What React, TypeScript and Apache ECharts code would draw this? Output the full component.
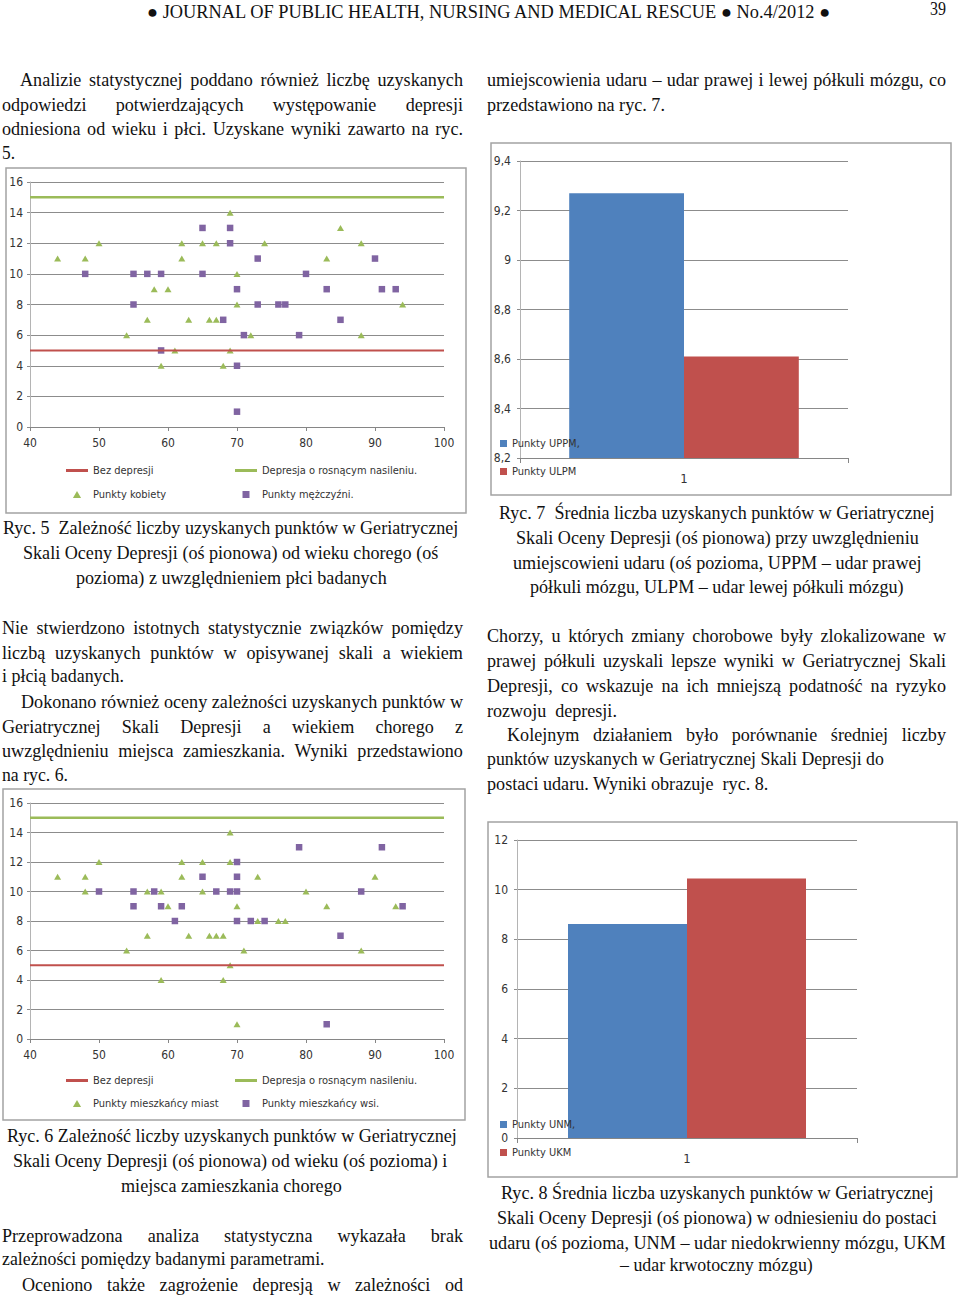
import React, { useEffect, useRef } from "react";
import * as echarts from "echarts";

// ---------------- data ----------------
const ageAxisRange = [40, 100];
const ageTickStep = 10;
const scoreAxisRange = [0, 16];
const scoreTickStep = 2;
const thresholdNoDepression = 5;
const thresholdDepression = 15;

const lineNames = ["Bez depresji", "Depresja o rosnącym nasileniu."];
const fig5SeriesNames = ["Punkty kobiety", "Punkty mężczyźni."];
const fig6SeriesNames = ["Punkty mieszkańcy miast", "Punkty mieszkańcy wsi."];

// Ryc. 5 – [wiek, punkty]
const womenPoints: [number, number][] = [
  [44, 11], [48, 11], [50, 12], [54, 6], [57, 7], [58, 9], [59, 4], [60, 9], [61, 5],
  [62, 12], [62, 11], [63, 7], [65, 12], [66, 7], [67, 12], [67, 7], [68, 4], [69, 14],
  [69, 5], [70, 10], [70, 8], [72, 6], [74, 12], [83, 11], [85, 13], [88, 12], [88, 6], [94, 8],
];
const menPoints: [number, number][] = [
  [48, 10], [55, 10], [55, 8], [57, 10], [59, 10], [59, 5], [65, 13], [65, 10], [68, 7],
  [69, 13], [69, 12], [70, 9], [70, 4], [70, 1], [71, 6], [73, 11], [73, 8], [76, 8],
  [77, 8], [79, 6], [80, 10], [83, 9], [85, 7], [90, 11], [91, 9], [93, 9],
];

// Ryc. 6 – [wiek, punkty]
const cityPoints: [number, number][] = [
  [44, 11], [48, 11], [48, 10], [50, 12], [54, 6], [57, 10], [57, 7], [59, 10], [59, 4],
  [60, 9], [62, 12], [62, 11], [63, 7], [65, 12], [65, 10], [66, 7], [67, 7], [68, 7],
  [68, 4], [69, 14], [69, 12], [69, 5], [70, 9], [70, 1], [71, 6], [73, 11], [73, 8],
  [76, 8], [77, 8], [80, 10], [83, 9], [88, 6], [90, 11], [93, 9],
];
const villagePoints: [number, number][] = [
  [50, 10], [55, 10], [55, 9], [58, 10], [59, 9], [61, 8], [62, 9], [65, 11], [67, 10],
  [69, 10], [70, 12], [70, 11], [70, 10], [70, 8], [72, 8], [74, 8], [79, 13], [83, 1],
  [85, 7], [88, 10], [91, 13], [94, 9],
];

// Ryc. 7
const fig7Categories = ["1"];
const fig7Names = ["Punkty UPPM,", "Punkty ULPM"];
const fig7UPPM = [9.27];
const fig7ULPM = [8.61];
const fig7AxisRange = [8.2, 9.4];
const fig7TickStep = 0.2;

// Ryc. 8
const fig8Categories = ["1"];
const fig8Names = ["Punkty UNM,", "Punkty UKM"];
const fig8UNM = [8.62];
const fig8UKM = [10.45];
const fig8AxisRange = [0, 12];
const fig8TickStep = 2;

// ---------------- page text (layout) ----------------
type Line = { t: string; x0: number; x1: number; y: number; m: "j" | "f"; fs?: number };

const pageLines: Line[] = [
  { t: "● JOURNAL OF PUBLIC HEALTH, NURSING AND MEDICAL RESCUE ● No.4/2012 ●", x0: 147, x1: 833, y: 12, m: "f", fs: 18 },
  { t: "39", x0: 930, x1: 946, y: 9, m: "f", fs: 18 },

  { t: "Analizie statystycznej poddano również liczbę uzyskanych", x0: 20, x1: 463, y: 79, m: "j" },
  { t: "odpowiedzi potwierdzających występowanie depresji", x0: 2, x1: 463, y: 104, m: "j" },
  { t: "odniesiona od wieku i płci. Uzyskane wyniki zawarto na ryc.", x0: 2, x1: 463, y: 128, m: "j" },
  { t: "5.", x0: 2, x1: 15, y: 153, m: "f" },

  { t: "umiejscowienia udaru – udar prawej i lewej półkuli mózgu, co", x0: 487, x1: 946, y: 79, m: "j" },
  { t: "przedstawiono na ryc. 7.", x0: 487, x1: 665, y: 104, m: "f" },

  { t: "Ryc. 5  Zależność liczby uzyskanych punktów w Geriatrycznej", x0: 3, x1: 459, y: 527, m: "f" },
  { t: "Skali Oceny Depresji (oś pionowa) od wieku chorego (oś", x0: 23, x1: 439, y: 552, m: "f" },
  { t: "pozioma) z uwzględnieniem płci badanych", x0: 76, x1: 387, y: 577, m: "f" },

  { t: "Nie stwierdzono istotnych statystycznie związków pomiędzy", x0: 2, x1: 463, y: 627, m: "j" },
  { t: "liczbą uzyskanych punktów w opisywanej skali a wiekiem", x0: 2, x1: 463, y: 652, m: "j" },
  { t: "i płcią badanych.", x0: 2, x1: 124, y: 676, m: "f" },
  { t: "Dokonano również oceny zależności uzyskanych punktów w", x0: 21, x1: 463, y: 701, m: "j" },
  { t: "Geriatrycznej Skali Depresji a wiekiem chorego z", x0: 2, x1: 463, y: 726, m: "j" },
  { t: "uwzględnieniu miejsca zamieszkania. Wyniki przedstawiono", x0: 2, x1: 463, y: 750, m: "j" },
  { t: "na ryc. 6.", x0: 2, x1: 68, y: 775, m: "f" },

  { t: "Ryc. 7  Średnia liczba uzyskanych punktów w Geriatrycznej", x0: 499, x1: 935, y: 512, m: "f" },
  { t: "Skali Oceny Depresji (oś pionowa) przy uwzględnieniu", x0: 516, x1: 919, y: 537, m: "f" },
  { t: "umiejscowieni udaru (oś pozioma, UPPM – udar prawej", x0: 513, x1: 922, y: 562, m: "f" },
  { t: "półkuli mózgu, ULPM – udar lewej półkuli mózgu)", x0: 530, x1: 904, y: 586, m: "f" },

  { t: "Chorzy, u  których zmiany chorobowe były zlokalizowane w", x0: 487, x1: 946, y: 635, m: "j" },
  { t: "prawej półkuli uzyskali lepsze wyniki w Geriatrycznej Skali", x0: 487, x1: 946, y: 660, m: "j" },
  { t: "Depresji, co wskazuje na ich mniejszą podatność na ryzyko", x0: 487, x1: 946, y: 685, m: "j" },
  { t: "rozwoju  depresji.", x0: 487, x1: 617, y: 710, m: "f" },
  { t: "Kolejnym działaniem było porównanie średniej liczby", x0: 507, x1: 946, y: 734, m: "j" },
  { t: "punktów uzyskanych w Geriatrycznej Skali Depresji do", x0: 487, x1: 884, y: 759, m: "f" },
  { t: "postaci udaru. Wyniki obrazuje  ryc. 8.", x0: 487, x1: 769, y: 783, m: "f" },

  { t: "Ryc. 6 Zależność liczby uzyskanych punktów w Geriatrycznej", x0: 7, x1: 457, y: 1135, m: "f" },
  { t: "Skali Oceny Depresji (oś pionowa) od wieku (oś pozioma) i", x0: 13, x1: 448, y: 1160, m: "f" },
  { t: "miejsca zamieszkania chorego", x0: 121, x1: 342, y: 1185, m: "f" },

  { t: "Przeprowadzona analiza statystyczna wykazała brak", x0: 2, x1: 463, y: 1235, m: "j" },
  { t: "zależności pomiędzy badanymi parametrami.", x0: 2, x1: 325, y: 1259, m: "f" },
  { t: "Oceniono także zagrożenie depresją w zależności od", x0: 22, x1: 463, y: 1284, m: "j" },

  { t: "Ryc. 8 Średnia liczba uzyskanych punktów w Geriatrycznej", x0: 501, x1: 934, y: 1192, m: "f" },
  { t: "Skali Oceny Depresji (oś pionowa) w odniesieniu do postaci", x0: 497, x1: 937, y: 1217, m: "f" },
  { t: "udaru (oś pozioma, UNM – udar niedokrwienny mózgu, UKM", x0: 489, x1: 946, y: 1242, m: "f" },
  { t: "– udar krwotoczny mózgu)", x0: 620, x1: 813, y: 1265, m: "f" },
];

const SERIF = "'Liberation Serif', 'Times New Roman', serif";
const SANS = "'Liberation Sans Narrow', 'Arial Narrow', 'DejaVu Sans Condensed', Roboto, sans-serif";
const BODY_FS = 19;
const LEGEND_FS = 11;

function textEl(text: string, x: number, y: number, scaleX: number, fs: number) {
  return {
    type: "text",
    x,
    y,
    scaleX,
    silent: true,
    style: {
      text,
      fontSize: fs,
      fontFamily: SERIF,
      fill: "#111",
      textAlign: "left",
      textVerticalAlign: "middle",
      align: "left",
      verticalAlign: "middle",
    },
  };
}

function layoutLines(lines: Line[]) {
  const ctx = document.createElement("canvas").getContext("2d")!;
  const w = (s: string, fs: number) => {
    ctx.font = `${fs}px ${SERIF}`;
    return ctx.measureText(s).width;
  };
  const ratios = lines
    .filter((l) => l.m === "f" && l.t.length > 10 && !l.fs)
    .map((l) => (l.x1 - l.x0) / w(l.t, BODY_FS))
    .sort((a, b) => a - b);
  const sx = ratios.length ? ratios[Math.floor(ratios.length / 2)] : 1;
  const els: any[] = [];
  lines.forEach((l) => {
    const fs = l.fs || BODY_FS;
    if (l.m === "f") {
      els.push(textEl(l.t, l.x0, l.y, (l.x1 - l.x0) / w(l.t, fs), fs));
    } else {
      const words = l.t.split(/\s+/);
      const ws = words.map((wd) => w(wd, fs) * sx);
      const total = ws.reduce((a, b) => a + b, 0);
      const gap = words.length > 1 ? (l.x1 - l.x0 - total) / (words.length - 1) : 0;
      let x = l.x0;
      words.forEach((wd, i) => {
        els.push(textEl(wd, x, l.y, sx, fs));
        x += ws[i] + gap;
      });
    }
  });
  return els;
}

const GRID_COLOR = "#8c8c8c";
const AXIS_COLOR = "#868686";
const YAXIS_COLOR = "#b4b4b4";
const LABEL_COLOR = "#333";
const RED = "#C0504D";
const GREEN = "#9BBB59";
const PURPLE = "#8064A2";
const BLUE = "#4F81BD";

const ICON_LINE = "path://M0,0H22V3H0Z";
const ICON_TRI = "path://M3.5,0L7,6H0Z";
const ICON_SQ = "path://M0,0H6V6H0Z";

function scatterXAxis(gridIndex: number) {
  return {
    gridIndex,
    type: "value",
    min: ageAxisRange[0],
    max: ageAxisRange[1],
    interval: ageTickStep,
    axisLine: { show: true, lineStyle: { color: AXIS_COLOR, width: 1 } },
    axisTick: { show: true, length: 4, lineStyle: { color: AXIS_COLOR } },
    axisLabel: { margin: 10, fontSize: 12, color: LABEL_COLOR, fontFamily: SANS },
    splitLine: { show: false },
  };
}
function scatterYAxis(gridIndex: number) {
  return {
    gridIndex,
    type: "value",
    min: scoreAxisRange[0],
    max: scoreAxisRange[1],
    interval: scoreTickStep,
    axisLine: { show: true, lineStyle: { color: YAXIS_COLOR } },
    axisTick: { show: true, length: 3, lineStyle: { color: GRID_COLOR } },
    axisLabel: { margin: 7, fontSize: 12, color: LABEL_COLOR, fontFamily: SANS },
    splitLine: { show: true, lineStyle: { color: GRID_COLOR, width: 1 } },
  };
}
function barXAxis(gridIndex: number, data: string[]) {
  return {
    gridIndex,
    type: "category",
    data,
    axisLine: { show: true, lineStyle: { color: AXIS_COLOR } },
    axisTick: { show: true, length: 5, alignWithLabel: false, lineStyle: { color: AXIS_COLOR } },
    axisLabel: { margin: 14, fontSize: 13, color: LABEL_COLOR, fontFamily: SANS },
    splitLine: { show: false },
  };
}
function barYAxis(gridIndex: number, range: number[], step: number) {
  return {
    gridIndex,
    type: "value",
    min: range[0],
    max: range[1],
    interval: step,
    axisLine: { show: true, lineStyle: { color: YAXIS_COLOR } },
    axisTick: { show: true, length: 3, lineStyle: { color: GRID_COLOR } },
    axisLabel: {
      margin: 9,
      fontSize: 12,
      color: LABEL_COLOR,
      fontFamily: SANS,
      formatter: (v: number) => String(+v.toFixed(1)).replace(".", ","),
    },
    splitLine: { show: true, lineStyle: { color: GRID_COLOR } },
  };
}

function thresholdSeries(idx: number) {
  return [
    {
      type: "line",
      name: lineNames[0],
      xAxisIndex: idx,
      yAxisIndex: idx,
      data: [
        [ageAxisRange[0], thresholdNoDepression],
        [ageAxisRange[1], thresholdNoDepression],
      ],
      symbol: "none",
      silent: true,
      lineStyle: { color: RED, width: 2 },
      itemStyle: { color: RED },
    },
    {
      type: "line",
      name: lineNames[1],
      xAxisIndex: idx,
      yAxisIndex: idx,
      data: [
        [ageAxisRange[0], thresholdDepression],
        [ageAxisRange[1], thresholdDepression],
      ],
      symbol: "none",
      silent: true,
      lineStyle: { color: GREEN, width: 2.5 },
      itemStyle: { color: GREEN },
    },
  ];
}

function scatterSeries(idx: number, names: string[], tri: [number, number][], sq: [number, number][]) {
  return [
    {
      type: "scatter",
      name: names[0],
      xAxisIndex: idx,
      yAxisIndex: idx,
      data: tri,
      symbol: "triangle",
      symbolSize: [7, 6],
      itemStyle: { color: GREEN, opacity: 1 },
    },
    {
      type: "scatter",
      name: names[1],
      xAxisIndex: idx,
      yAxisIndex: idx,
      data: sq,
      symbol: "rect",
      symbolSize: 6.5,
      itemStyle: { color: PURPLE, opacity: 1 },
    },
  ];
}

function scatterLegends(top: number, gap: number, names: string[]) {
  const base = {
    orient: "vertical",
    padding: 0,
    itemWidth: 22,
    itemHeight: 7,
    itemGap: gap,
    selectedMode: false,
    textStyle: { fontSize: LEGEND_FS, color: LABEL_COLOR, fontFamily: SANS },
  };
  return [
    {
      ...base,
      left: 66,
      top,
      data: [
        { name: lineNames[0], icon: ICON_LINE },
        { name: names[0], icon: ICON_TRI },
      ],
    },
    {
      ...base,
      left: 235,
      top,
      data: [
        { name: lineNames[1], icon: ICON_LINE },
        { name: names[1], icon: ICON_SQ },
      ],
    },
  ];
}

function barLegend(top: number, names: string[]) {
  return {
    orient: "vertical",
    padding: 0,
    left: 500,
    top,
    itemWidth: 7,
    itemHeight: 7,
    itemGap: 17,
    selectedMode: false,
    icon: "rect",
    textStyle: { fontSize: LEGEND_FS, color: LABEL_COLOR, fontFamily: SANS },
    data: names,
  };
}

function frame(x: number, y: number, width: number, height: number) {
  return {
    type: "rect",
    silent: true,
    shape: { x, y, width, height },
    style: { fill: "none", stroke: "#a3a3a3", lineWidth: 1.5 },
  };
}

function buildOption() {
  return {
    animation: false,
    backgroundColor: "#fff",
    grid: [
      { left: 30, top: 182, width: 414, height: 245 },
      { left: 30, top: 803, width: 414, height: 236 },
      { left: 520, top: 161, width: 328, height: 297 },
      { left: 517, top: 840, width: 340, height: 298 },
    ],
    xAxis: [
      scatterXAxis(0),
      scatterXAxis(1),
      barXAxis(2, fig7Categories),
      barXAxis(3, fig8Categories),
    ],
    yAxis: [
      scatterYAxis(0),
      scatterYAxis(1),
      barYAxis(2, fig7AxisRange, fig7TickStep),
      barYAxis(3, fig8AxisRange, fig8TickStep),
    ],
    legend: [
      ...scatterLegends(465, 13, fig5SeriesNames),
      ...scatterLegends(1075, 12, fig6SeriesNames),
      barLegend(438, fig7Names),
      barLegend(1119, fig8Names),
    ],
    series: [
      ...thresholdSeries(0),
      ...scatterSeries(0, fig5SeriesNames, womenPoints, menPoints),
      ...thresholdSeries(1),
      ...scatterSeries(1, fig6SeriesNames, cityPoints, villagePoints),
      {
        type: "bar",
        name: fig7Names[0],
        xAxisIndex: 2,
        yAxisIndex: 2,
        data: fig7UPPM,
        barGap: "0%",
        barCategoryGap: "30%",
        itemStyle: { color: BLUE },
      },
      {
        type: "bar",
        name: fig7Names[1],
        xAxisIndex: 2,
        yAxisIndex: 2,
        data: fig7ULPM,
        barGap: "0%",
        barCategoryGap: "30%",
        itemStyle: { color: RED },
      },
      {
        type: "bar",
        name: fig8Names[0],
        xAxisIndex: 3,
        yAxisIndex: 3,
        data: fig8UNM,
        barGap: "0%",
        barCategoryGap: "30%",
        itemStyle: { color: BLUE },
      },
      {
        type: "bar",
        name: fig8Names[1],
        xAxisIndex: 3,
        yAxisIndex: 3,
        data: fig8UKM,
        barGap: "0%",
        barCategoryGap: "30%",
        itemStyle: { color: RED },
      },
    ],
    graphic: {
      elements: [
        frame(6, 168, 460, 345),
        frame(3, 789, 462, 331),
        frame(491, 143, 460, 352),
        frame(488, 822, 469, 355),
        ...layoutLines(pageLines),
      ],
    },
  };
}

export default function App() {
  const ref = useRef<HTMLDivElement>(null);
  useEffect(() => {
    if (!ref.current) return;
    const chart = echarts.init(ref.current, null, { renderer: "svg" });
    chart.setOption(buildOption() as any);
    return () => chart.dispose();
  }, []);
  return (
    <div
      ref={ref}
      style={{ position: "absolute", left: 0, top: 0, width: 960, height: 1296, background: "#fff" }}
    />
  );
}
